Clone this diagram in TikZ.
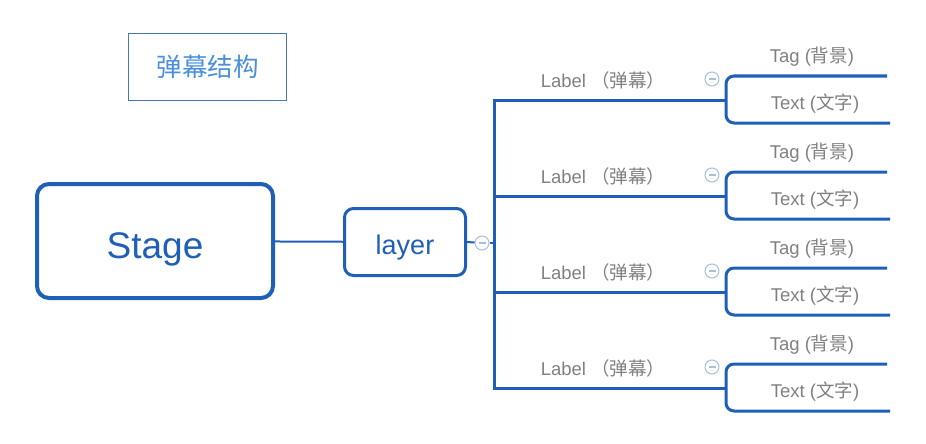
\documentclass[tikz,border=0pt]{standalone}
\usepackage{fontspec}
\setmainfont{Liberation Sans}
\newfontfamily\cjk{Noto Sans CJK SC}
\usetikzlibrary{positioning}
\definecolor{mapblue}{HTML}{1F5FB8}
\definecolor{titleblue}{HTML}{4A8FDB}
\definecolor{foldblue}{HTML}{A9BEE2}
\definecolor{labelgray}{HTML}{808080}

\begin{document}
\begin{tikzpicture}[x=1pt,y=-1pt]
	\tikzset{
		topicbox/.style={draw=mapblue, fill=white, text=mapblue, rounded corners=#1},
		branch/.style={draw=mapblue, line width=3pt},
		fold/.style={circle, draw=foldblue, fill=white, line width=1pt, minimum size=14pt, inner sep=0pt,
			path picture={\draw[foldblue, line width=1.2pt] ([xshift=-3.5pt]path picture bounding box.center) -- ([xshift=3.5pt]path picture bounding box.center);}},
		sublabel/.style={text=labelgray, font=\fontsize{18.5}{21}\selectfont}
	}
	\useasboundingbox (0,0) rectangle (926,444);
	
	% Title and the two main topics
	\node (title) at (207.5,67) [draw=mapblue!85, line width=1.4pt, minimum width=157.6, minimum height=66.6, text=titleblue, font=\cjk\fontsize{25.5}{28}\selectfont] {弹幕结构};
	\node (stage) at (155,241) [topicbox=12, line width=4pt, minimum width=236, minimum height=114, text height=34pt, text depth=0pt, font=\fontsize{37}{40}\selectfont] {Stage};
	\node (layer) at (405,242) [topicbox=9, line width=3pt, minimum width=121, minimum height=67, text height=25pt, text depth=0pt, font=\fontsize{27}{30}\selectfont] {layer};
	\draw[branch, line width=2pt] (stage) -- (layer);
	
	% Fold button and trunk behind layer
	\node[fold] (fold0) at (482,243) {};
	\coordinate (trunk) at (494,243);
	\draw[branch, line width=2pt] (layer.east) -- (fold0);
	\draw[branch, line width=2pt] (fold0) -- (trunk);
	
	% One Label branch with its Tag / Text leaves per row
	\foreach \i/\y in {1/100,2/196,3/292,4/388}{
		\coordinate (knot\i) at (726,\y);
		\coordinate (tagend\i) at (887,\y-24);
		\coordinate (textend\i) at (890,\y+23);
		\draw[branch] (trunk) |- (knot\i);
		\draw[branch, rounded corners=8] (tagend\i) -| (knot\i) |- (textend\i);
		\node[sublabel] (label\i) at (603,\y-20) {Label {\cjk （弹幕）}};
		\node[fold] (fold\i) at (712,\y-21) {};
		\node[sublabel] (tag\i) at (812,\y-43) {Tag ({\cjk 背景})};
		\node[sublabel] (text\i) at (815,\y+4) {Text ({\cjk 文字})};
	}
\end{tikzpicture}
\end{document}
